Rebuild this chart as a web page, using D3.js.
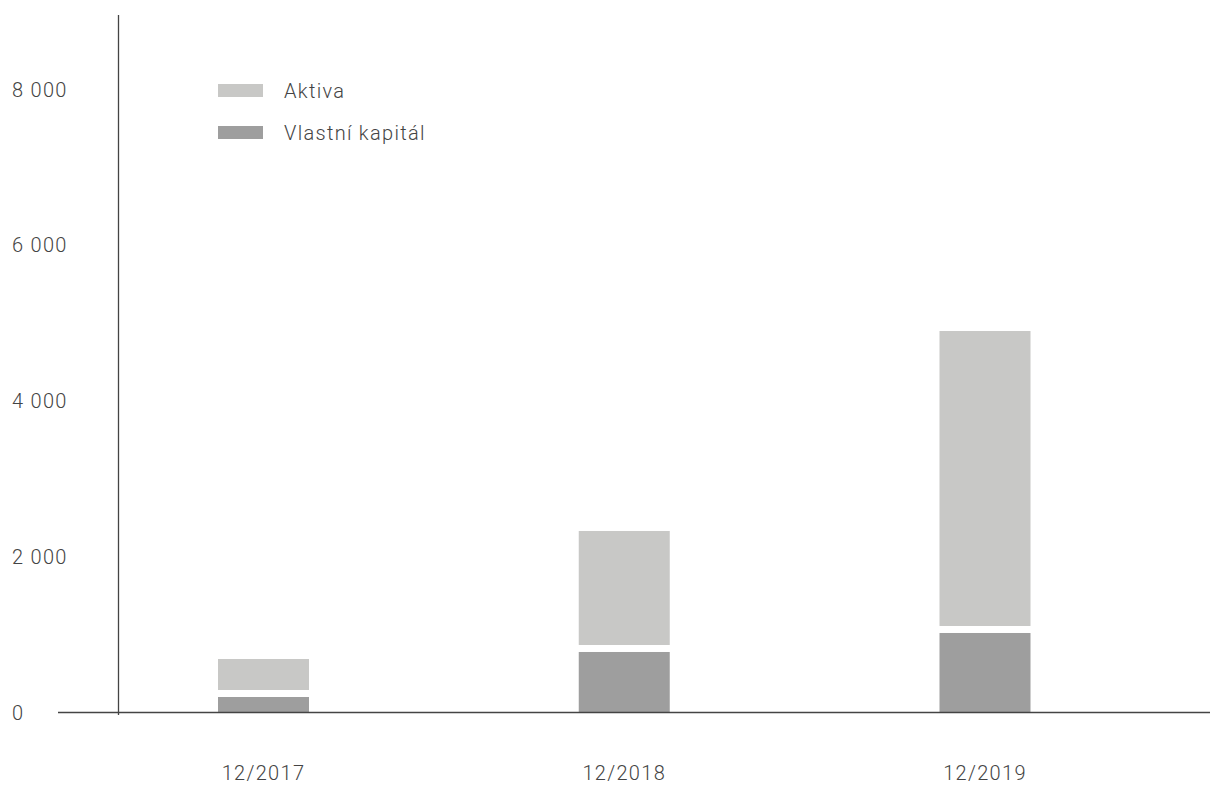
<!DOCTYPE html>
<html>
<head>
<meta charset="utf-8">
<script src="https://cdn.jsdelivr.net/npm/d3@7"></script>
<style>
  body { margin: 0; background: #fff; }
  text { font-family: Roboto, "Noto Sans", sans-serif; font-weight: 300; fill: #444; letter-spacing: 1.3px; }
</style>
</head>
<body>
<div id="chart-area"></div>
<script>
// data
var periods = ["12/2017", "12/2018", "12/2019"];
var aktiva = [687, 2331, 4899];
var kapital = [199, 777, 1021];
var yTicks = [0, 2000, 4000, 6000, 8000];
var seriesNames = ["Aktiva", "Vlastní kapitál"];

var width = 1211, height = 786;
var colors = { light: "#c8c8c6", dark: "#9e9e9e" };
var gap = 7; // white gap between the two parts of a bar
var barWidth = 91;

var svg = d3.select("#chart-area")
  .append("svg")
    .attr("width", width)
    .attr("height", height);

var y = d3.scaleLinear()
  .domain([0, 8000])
  .range([712.5, 89.5]);

var x = d3.scalePoint()
  .domain(periods)
  .range([263.5, 985]);

var fmt = d3.formatLocale({ decimal: ",", thousands: " ", grouping: [3], currency: ["", ""] }).format(",d");

// y tick labels (no tick marks)
svg.append("g")
  .selectAll("text")
  .data(yTicks)
  .enter().append("text")
    .attr("x", 12)
    .attr("y", function(d){ return y(d); })
    .attr("dy", "0.35em")
    .attr("font-size", "20px")
    .text(function(d){ return fmt(d); });

var data = periods.map(function(p, i){
  return { period: p, aktiva: aktiva[i], kapital: kapital[i] };
});

// Aktiva part (above equity)
svg.append("g")
  .selectAll("rect")
  .data(data)
  .enter().append("rect")
    .attr("x", function(d){ return x(d.period) - barWidth/2; })
    .attr("y", function(d){ return y(d.aktiva); })
    .attr("width", barWidth)
    .attr("height", function(d){ return y(d.kapital) - gap - y(d.aktiva); })
    .attr("fill", colors.light);

// Vlastni kapital part
svg.append("g")
  .selectAll("rect")
  .data(data)
  .enter().append("rect")
    .attr("x", function(d){ return x(d.period) - barWidth/2; })
    .attr("y", function(d){ return y(d.kapital); })
    .attr("width", barWidth)
    .attr("height", function(d){ return y(0) - y(d.kapital); })
    .attr("fill", colors.dark);

// axes lines
svg.append("line")
  .attr("x1", 58).attr("x2", 1210)
  .attr("y1", y(0)).attr("y2", y(0))
  .attr("stroke", "#444").attr("stroke-width", 1.3);

svg.append("line")
  .attr("x1", 118.5).attr("x2", 118.5)
  .attr("y1", 15).attr("y2", 715)
  .attr("stroke", "#444").attr("stroke-width", 1.3);

// x labels
svg.append("g")
  .selectAll("text")
  .data(periods)
  .enter().append("text")
    .attr("x", function(d){ return x(d); })
    .attr("y", 780)
    .attr("text-anchor", "middle")
    .attr("font-size", "20px")
    .text(function(d){ return d; });

// legend
var legend = svg.append("g")
  .selectAll("g")
  .data(seriesNames)
  .enter().append("g")
    .attr("transform", function(d, i){ return "translate(218," + (84 + i*42) + ")"; });

legend.append("rect")
  .attr("width", 45)
  .attr("height", 13)
  .attr("fill", function(d, i){ return i === 0 ? colors.light : colors.dark; });

legend.append("text")
  .attr("x", 66)
  .attr("y", 6.5)
  .attr("dy", "0.35em")
  .attr("font-size", "20px")
  .text(function(d){ return d; });
</script>
</body>
</html>
